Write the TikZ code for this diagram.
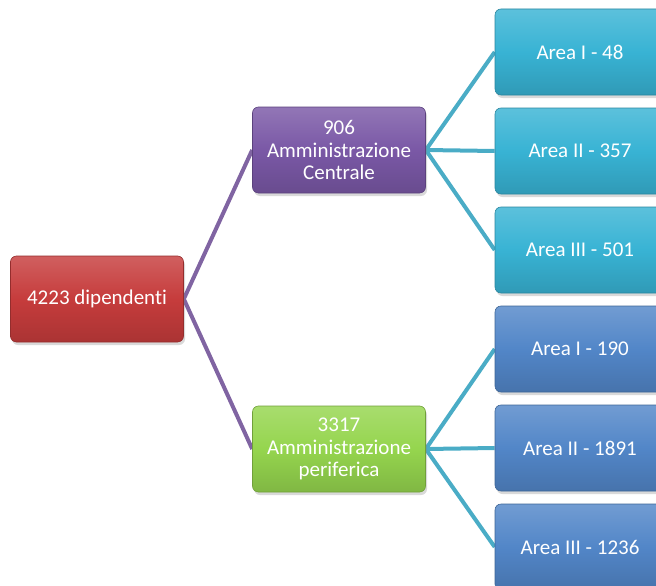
\documentclass[tikz,border=0pt]{standalone}
\usepackage{fontspec}
\setmainfont[Ligatures={NoCommon}]{Carlito}
\usetikzlibrary{shadows,backgrounds}
\definecolor{cred}{HTML}{C63C3C}
\definecolor{cpurple}{HTML}{7A58A6}
\definecolor{cgreen}{HTML}{95D54E}
\definecolor{cteal}{HTML}{38B3D4}
\definecolor{cblue}{HTML}{5286C8}
\definecolor{lteal}{HTML}{4AACC6}
\definecolor{lpurple}{HTML}{8064A2}
\begin{document}
\begin{tikzpicture}[x=1pt,y=-1pt,
  box/.style={rounded corners=6pt, minimum width=173pt, minimum height=86pt,
    text=white, font=\fontsize{21}{22.5}\selectfont, align=center,
    draw=#1!75!black, line width=0.6pt,
    top color=#1!82!white, bottom color=#1!86!black, middle color=#1,
    drop shadow={opacity=0.3, shadow xshift=1.5pt, shadow yshift=-3pt}},
  tealline/.style={draw=lteal, line width=4pt},
  purpleline/.style={draw=lpurple, line width=4pt}]
\useasboundingbox (0,0) rectangle (656,586);
\node[box=cred] (root) at (97,299) {4223 dipendenti};
\node[box=cpurple] (ac) at (339,150) {906\\Amministrazione\\Centrale};
\node[box=cgreen] (ap) at (339,449) {3317\\Amministrazione\\periferica};
\node[box=cteal, minimum width=170pt] (a1) at (580,52) {Area I - 48};
\node[box=cteal, minimum width=170pt] (a2) at (580,151) {Area II - 357};
\node[box=cteal, minimum width=170pt] (a3) at (580,250) {Area III - 501};
\node[box=cblue, minimum width=170pt] (b1) at (580,349) {Area I - 190};
\node[box=cblue, minimum width=170pt] (b2) at (580,448) {Area II - 1891};
\node[box=cblue, minimum width=170pt] (b3) at (580,547) {Area III - 1236};
\begin{scope}[on background layer]
\draw[purpleline] (root.east) -- (ac.west);
\draw[purpleline] (root.east) -- (ap.west);
\draw[tealline] (ac.east) -- (a1.west);
\draw[tealline] (ac.east) -- (a2.west);
\draw[tealline] (ac.east) -- (a3.west);
\draw[tealline] (ap.east) -- (b1.west);
\draw[tealline] (ap.east) -- (b2.west);
\draw[tealline] (ap.east) -- (b3.west);
\end{scope}
\end{tikzpicture}
\end{document}
